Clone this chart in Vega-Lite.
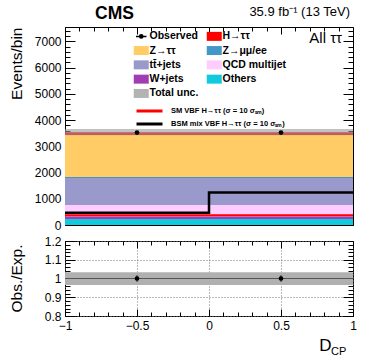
{
  "$schema": "https://vega.github.io/schema/vega-lite/v6.json",
  "padding": {"left": 8, "top": 4, "right": 5, "bottom": 2},
  "spacing": 2,
  "config": {
    "font": "Liberation Sans",
    "view": {"stroke": "#000", "strokeWidth": 1},
    "axis": {"domain": false, "grid": false, "tickColor": "#000", "tickWidth": 1, "labelColor": "#000", "labelFontSize": 12, "titleColor": "#000", "titleFontWeight": "normal"}
  },
  "resolve": {"legend": {"color": "independent", "stroke": "independent"}},
  "vconcat": [
    {
      "width": 288,
      "height": 198,
      "resolve": {"axis": {"x": "independent", "y": "independent"}},
      "layer": [
        {
          "data": {"values": [
            {"lo": -1, "hi": 0, "p": "Others", "k": 1, "v": 230},
            {"lo": -1, "hi": 0, "p": "W+jets", "k": 2, "v": 100},
            {"lo": -1, "hi": 0, "p": "QCD multijet", "k": 3, "v": 430},
            {"lo": -1, "hi": 0, "p": "tt\u0304+jets", "k": 4, "v": 1030},
            {"lo": -1, "hi": 0, "p": "Z→μμ/ee", "k": 5, "v": 45},
            {"lo": -1, "hi": 0, "p": "Z→ττ", "k": 6, "v": 1595},
            {"lo": -1, "hi": 0, "p": "H→ττ", "k": 7, "v": 110},
            {"lo": 0, "hi": 1, "p": "Others", "k": 1, "v": 230},
            {"lo": 0, "hi": 1, "p": "W+jets", "k": 2, "v": 100},
            {"lo": 0, "hi": 1, "p": "QCD multijet", "k": 3, "v": 430},
            {"lo": 0, "hi": 1, "p": "tt\u0304+jets", "k": 4, "v": 1030},
            {"lo": 0, "hi": 1, "p": "Z→μμ/ee", "k": 5, "v": 45},
            {"lo": 0, "hi": 1, "p": "Z→ττ", "k": 6, "v": 1595},
            {"lo": 0, "hi": 1, "p": "H→ττ", "k": 7, "v": 110}
          ]},
          "transform": [{"stack": "v", "groupby": ["lo"], "sort": [{"field": "k", "order": "ascending"}], "as": ["s0", "s1"]}],
          "mark": {"type": "rect"},
          "encoding": {
            "x": {"field": "lo", "type": "quantitative", "scale": {"domain": [-1, 1], "nice": false},
              "axis": {"orient": "bottom", "title": null, "labels": false,
                "values": [-1, -0.9, -0.8, -0.7, -0.6, -0.5, -0.4, -0.3, -0.2, -0.1, 0, 0.1, 0.2, 0.3, 0.4, 0.5, 0.6, 0.7, 0.8, 0.9, 1],
                "tickSize": {"condition": {"test": "abs(datum.value*2 - round(datum.value*2)) < 0.001", "value": -7}, "value": -4}}},
            "x2": {"field": "hi"},
            "y": {"field": "s0", "type": "quantitative", "scale": {"domain": [0, 7550], "nice": false, "zero": true},
              "axis": {"orient": "left", "format": "d",
                "values": [0, 200, 400, 600, 800, 1000, 1200, 1400, 1600, 1800, 2000, 2200, 2400, 2600, 2800, 3000, 3200, 3400, 3600, 3800, 4000, 4200, 4400, 4600, 4800, 5000, 5200, 5400, 5600, 5800, 6000, 6200, 6400, 6600, 6800, 7000, 7200, 7400],
                "labelExpr": "datum.value % 1000 === 0 ? datum.label : ''",
                "tickSize": {"condition": {"test": "datum.value % 1000 === 0", "value": -10}, "value": -5},
                "labelPadding": 14,
                "title": "Events/bin", "titleFontSize": 15.5, "titleAngle": -90, "titleAlign": "right", "titleBaseline": "alphabetic", "titleX": -44, "titleY": 0}},
            "y2": {"field": "s1"},
            "color": {"field": "p", "type": "nominal",
              "scale": {"domain": ["Observed", "H→ττ", "Z→ττ", "Z→μμ/ee", "tt\u0304+jets", "QCD multijet", "W+jets", "Others", "Total unc."],
                "range": ["#000000", "#ff0000", "#ffcc66", "#4496c8", "#9999cc", "#ffccff", "#a03cb4", "#12cadd", "#b3b3b3"]},
              "legend": {"orient": "none", "legendX": 71, "legendY": 4, "columns": 2, "direction": "horizontal", "title": null, "padding": 0,
                "rowPadding": 3.3, "columnPadding": 7, "symbolType": "M-1,-0.6H1V0.6H-1Z", "symbolSize": 225,
                "symbolStrokeWidth": 0, "labelFontSize": 10.5, "labelFontWeight": "bold", "labelColor": "#000", "labelOffset": 3,
                "encode": {"symbols": {"update": {
                  "shape": {"signal": "datum.value === 'Observed' ? 'M-0.22,0A0.22,0.22 0 1,0 0.22,0A0.22,0.22 0 1,0 -0.22,0ZM-0.7,0H0.7' : 'M-1,-0.6H1V0.6H-1Z'"},
                  "stroke": {"value": "#000"},
                  "strokeWidth": {"signal": "datum.value === 'Observed' ? 1.5 : 0"}}}}}}
          }
        },
        {
          "data": {"values": [
            {"lo": -1, "hi": 0, "u0": 3420, "u1": 3660},
            {"lo": 0, "hi": 1, "u0": 3420, "u1": 3660}
          ]},
          "mark": {"type": "rect", "color": "#999999", "opacity": 0.6},
          "encoding": {
            "x": {"field": "lo", "type": "quantitative", "axis": null},
            "x2": {"field": "hi"},
            "y": {"field": "u0", "type": "quantitative", "axis": null},
            "y2": {"field": "u1"}
          }
        },
        {
          "data": {"values": [
            {"x": -1, "y": 372, "s": "SM VBF H→ττ (σ = 10 σₛₘ)"},
            {"x": 1, "y": 372, "s": "SM VBF H→ττ (σ = 10 σₛₘ)"}
          ]},
          "mark": {"type": "line", "strokeWidth": 2},
          "encoding": {
            "x": {"field": "x", "type": "quantitative", "axis": null},
            "y": {"field": "y", "type": "quantitative", "axis": null},
            "stroke": {"field": "s", "type": "nominal",
              "scale": {"domain": ["SM VBF H→ττ (σ = 10 σₛₘ)", "BSM mix VBF H→ττ (σ = 10 σₛₘ)"], "range": ["#ff0000", "#000000"]},
              "legend": {"orient": "none", "legendX": 70, "legendY": 77.5, "title": null, "padding": 0, "rowPadding": -1.3,
                "symbolType": "M-1,0H4.2", "symbolSize": 100, "symbolStrokeWidth": 3, "labelFontSize": 7.5, "labelFontWeight": "bold", "labelColor": "#000", "labelOffset": 23}}
          }
        },
        {
          "data": {"values": [
            {"x": -1, "y": 470, "s": "BSM mix VBF H→ττ (σ = 10 σₛₘ)"},
            {"x": 0, "y": 1240, "s": "BSM mix VBF H→ττ (σ = 10 σₛₘ)"},
            {"x": 1, "y": 1240, "s": "BSM mix VBF H→ττ (σ = 10 σₛₘ)"}
          ]},
          "mark": {"type": "line", "strokeWidth": 2.5, "interpolate": "step-after"},
          "encoding": {
            "x": {"field": "x", "type": "quantitative", "axis": null},
            "y": {"field": "y", "type": "quantitative", "axis": null},
            "stroke": {"field": "s", "type": "nominal"}
          }
        },
        {
          "data": {"values": [
            {"x": -0.5, "y": 3525, "e0": 3466, "e1": 3584},
            {"x": 0.5, "y": 3525, "e0": 3466, "e1": 3584}
          ]},
          "mark": {"type": "rule", "color": "#000", "strokeWidth": 1},
          "encoding": {
            "x": {"field": "x", "type": "quantitative", "axis": null},
            "y": {"field": "e0", "type": "quantitative", "axis": null},
            "y2": {"field": "e1"}
          }
        },
        {
          "data": {"values": [
            {"x": -0.5, "y": 3525},
            {"x": 0.5, "y": 3525}
          ]},
          "mark": {"type": "circle", "color": "#000", "opacity": 1, "size": 22},
          "encoding": {
            "x": {"field": "x", "type": "quantitative",
              "axis": {"orient": "top", "title": null, "labels": false,
                "values": [-1, -0.9, -0.8, -0.7, -0.6, -0.5, -0.4, -0.3, -0.2, -0.1, 0, 0.1, 0.2, 0.3, 0.4, 0.5, 0.6, 0.7, 0.8, 0.9, 1],
                "tickSize": {"condition": {"test": "abs(datum.value*2 - round(datum.value*2)) < 0.001", "value": -7}, "value": -4}}},
            "y": {"field": "y", "type": "quantitative",
              "axis": {"orient": "right", "title": null, "labels": false,
                "values": [0, 200, 400, 600, 800, 1000, 1200, 1400, 1600, 1800, 2000, 2200, 2400, 2600, 2800, 3000, 3200, 3400, 3600, 3800, 4000, 4200, 4400, 4600, 4800, 5000, 5200, 5400, 5600, 5800, 6000, 6200, 6400, 6600, 6800, 7000, 7200, 7400],
                "tickSize": {"condition": {"test": "datum.value % 1000 === 0", "value": -10}, "value": -5}}}
          }
        },
        {
          "data": {"values": [{}]},
          "mark": {"type": "text", "text": "CMS", "fontSize": 17.5, "fontWeight": "bold", "align": "center", "baseline": "alphabetic", "color": "#000"},
          "encoding": {
            "x": {"datum": -0.656, "type": "quantitative", "axis": null},
            "y": {"datum": 7871, "type": "quantitative", "axis": null}
          }
        },
        {
          "data": {"values": [{}]},
          "mark": {"type": "text", "text": "35.9 fb⁻¹ (13 TeV)", "fontSize": 13, "align": "right", "baseline": "alphabetic", "color": "#000"},
          "encoding": {
            "x": {"datum": 0.979, "type": "quantitative", "axis": null},
            "y": {"datum": 7973, "type": "quantitative", "axis": null}
          }
        },
        {
          "data": {"values": [{}]},
          "mark": {"type": "text", "text": "All ττ", "fontSize": 15, "align": "right", "baseline": "alphabetic", "color": "#000"},
          "encoding": {
            "x": {"datum": 0.924, "type": "quantitative", "axis": null},
            "y": {"datum": 6923, "type": "quantitative", "axis": null}
          }
        }
      ]
    },
    {
      "width": 288,
      "height": 75,
      "resolve": {"axis": {"x": "independent", "y": "independent"}},
      "layer": [
        {
          "data": {"values": [{"lo": -1, "hi": 1, "b0": 0.966, "b1": 1.034}]},
          "mark": {"type": "rect", "color": "#b0b0b0"},
          "encoding": {
            "x": {"field": "lo", "type": "quantitative", "scale": {"domain": [-1, 1], "nice": false},
              "axis": {"orient": "bottom", "format": "~g", "values": [-1, -0.9, -0.8, -0.7, -0.6, -0.5, -0.4, -0.3, -0.2, -0.1, 0, 0.1, 0.2, 0.3, 0.4, 0.5, 0.6, 0.7, 0.8, 0.9, 1],
                "labelExpr": "abs(datum.value*2 - round(datum.value*2)) < 0.001 ? datum.label : ''",
                "labelFlush": false, "labelPadding": 11,
                "tickSize": {"condition": {"test": "abs(datum.value*2 - round(datum.value*2)) < 0.001", "value": -7}, "value": -4},
                "grid": true, "gridDash": [1, 2], "gridColor": "#777",
                "gridOpacity": {"condition": {"test": "abs(datum.value*2 - round(datum.value*2)) < 0.001", "value": 1}, "value": 0},
                "title": "D", "titleFontSize": 17, "titleAlign": "right", "titleBaseline": "alphabetic", "titleX": 266, "titleY": 34}},
            "x2": {"field": "hi"},
            "y": {"field": "b0", "type": "quantitative", "scale": {"domain": [0.8, 1.2], "nice": false, "zero": false},
              "axis": {"orient": "left", "format": "~g", "values": [0.8, 0.82, 0.84, 0.86, 0.88, 0.9, 0.92, 0.94, 0.96, 0.98, 1, 1.02, 1.04, 1.06, 1.08, 1.1, 1.12, 1.14, 1.16, 1.18, 1.2],
                "labelExpr": "abs(datum.value*10 - round(datum.value*10)) < 0.001 ? datum.label : ''",
                "labelPadding": 14,
                "tickSize": {"condition": {"test": "abs(datum.value*10 - round(datum.value*10)) < 0.001", "value": -10}, "value": -5},
                "grid": true, "gridDash": [1, 2], "gridColor": "#777",
                "gridOpacity": {"condition": {"test": "abs(datum.value*10 - round(datum.value*10)) < 0.001", "value": 1}, "value": 0},
                "title": "Obs./Exp.", "titleFontSize": 15.5, "titleAngle": -90, "titleAlign": "center", "titleBaseline": "alphabetic", "titleX": -44, "titleY": 37}},
            "y2": {"field": "b1"}
          }
        },
        {
          "data": {"values": [{}]},
          "mark": {"type": "rule", "color": "#555", "strokeWidth": 1},
          "encoding": {"y": {"datum": 1, "type": "quantitative", "axis": null}}
        },
        {
          "data": {"values": [
            {"x": -0.5, "r": 1.0, "e0": 0.983, "e1": 1.017},
            {"x": 0.5, "r": 1.0, "e0": 0.983, "e1": 1.017}
          ]},
          "mark": {"type": "rule", "color": "#000", "strokeWidth": 1},
          "encoding": {
            "x": {"field": "x", "type": "quantitative", "axis": null},
            "y": {"field": "e0", "type": "quantitative", "axis": null},
            "y2": {"field": "e1"}
          }
        },
        {
          "data": {"values": [
            {"x": -0.5, "r": 1.0},
            {"x": 0.5, "r": 1.0}
          ]},
          "mark": {"type": "circle", "color": "#000", "opacity": 1, "size": 22},
          "encoding": {
            "x": {"field": "x", "type": "quantitative",
              "axis": {"orient": "top", "title": null, "labels": false,
                "values": [-1, -0.9, -0.8, -0.7, -0.6, -0.5, -0.4, -0.3, -0.2, -0.1, 0, 0.1, 0.2, 0.3, 0.4, 0.5, 0.6, 0.7, 0.8, 0.9, 1],
                "tickSize": {"condition": {"test": "abs(datum.value*2 - round(datum.value*2)) < 0.001", "value": -7}, "value": -4}}},
            "y": {"field": "r", "type": "quantitative",
              "axis": {"orient": "right", "title": null, "labels": false,
                "values": [0.8, 0.82, 0.84, 0.86, 0.88, 0.9, 0.92, 0.94, 0.96, 0.98, 1, 1.02, 1.04, 1.06, 1.08, 1.1, 1.12, 1.14, 1.16, 1.18, 1.2],
                "tickSize": {"condition": {"test": "abs(datum.value*10 - round(datum.value*10)) < 0.001", "value": -10}, "value": -5}}}
          }
        },
        {
          "data": {"values": [{}]},
          "mark": {"type": "text", "text": "CP", "fontSize": 11, "align": "left", "baseline": "alphabetic", "color": "#000"},
          "encoding": {
            "x": {"datum": 0.847, "type": "quantitative", "axis": null},
            "y": {"datum": 0.594, "type": "quantitative", "axis": null}
          }
        }
      ]
    }
  ]
}
